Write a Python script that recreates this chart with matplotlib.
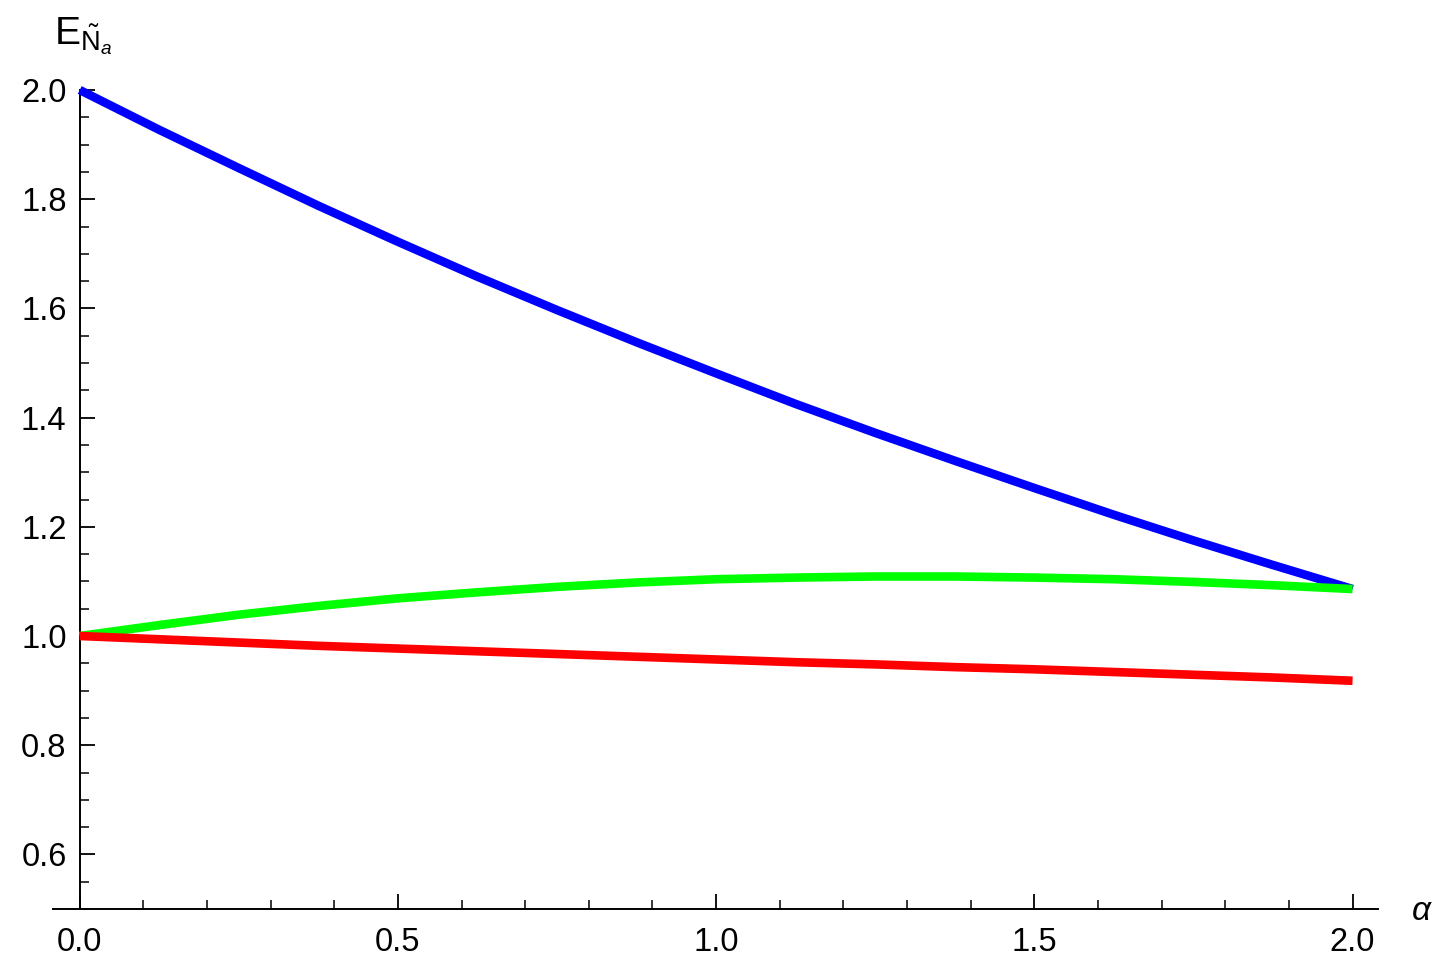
import matplotlib
matplotlib.use("Agg")
import matplotlib.pyplot as plt
from matplotlib.ticker import MultipleLocator, FormatStrFormatter

alpha = [0.0, 0.125, 0.25, 0.375, 0.5, 0.625, 0.75, 0.875, 1.0,
         1.125, 1.25, 1.375, 1.5, 1.625, 1.75, 1.875, 2.0]
e_blue = [2.0, 1.927, 1.857, 1.788, 1.722, 1.658, 1.597, 1.538, 1.481,
          1.425, 1.372, 1.321, 1.271, 1.222, 1.175, 1.130, 1.086]
e_green = [1.0, 1.020, 1.039, 1.055, 1.069, 1.080, 1.090, 1.098, 1.104,
           1.107, 1.109, 1.109, 1.107, 1.104, 1.099, 1.093, 1.086]
e_red = [1.0, 0.994, 0.988, 0.982, 0.977, 0.972, 0.967, 0.962, 0.957,
         0.952, 0.948, 0.943, 0.939, 0.934, 0.929, 0.924, 0.918]

x_major = [0.0, 0.5, 1.0, 1.5, 2.0]
y_major = [0.6, 0.8, 1.0, 1.2, 1.4, 1.6, 1.8, 2.0]

plt.rcParams['font.family'] = ['Liberation Sans', 'DejaVu Sans']
plt.rcParams['mathtext.fontset'] = 'custom'
plt.rcParams['mathtext.rm'] = 'Liberation Sans'
plt.rcParams['mathtext.it'] = 'Liberation Sans:italic'

W, H = 1448, 975
fig = plt.figure(figsize=(W / 100, H / 100), dpi=100)
ax = fig.add_axes([53 / W, (H - 909) / H, (1378 - 53) / W, (909 - 90) / H])

lw = 6.2
ax.plot(alpha, e_blue, color=(0, 0, 1), lw=lw, solid_capstyle='butt', clip_on=False, zorder=3)
ax.plot(alpha, e_green, color=(0, 1, 0), lw=lw, solid_capstyle='butt', clip_on=False, zorder=4)
ax.plot(alpha, e_red, color=(1, 0, 0), lw=lw, solid_capstyle='butt', clip_on=False, zorder=5)

ax.set_xlim(-0.042, 2.04)
ax.set_ylim(0.5, 2.0)

for s in ['top', 'right']:
    ax.spines[s].set_visible(False)
ax.spines['left'].set_position(('data', 0))
for s in ['left', 'bottom']:
    ax.spines[s].set_linewidth(1.4)
    ax.spines[s].set_zorder(2)

ax.set_xticks(x_major)
ax.set_yticks(y_major)
ax.xaxis.set_minor_locator(MultipleLocator(0.1))
ax.yaxis.set_minor_locator(MultipleLocator(0.05))
ax.xaxis.set_major_formatter(FormatStrFormatter('%.1f'))
ax.yaxis.set_major_formatter(FormatStrFormatter('%.1f'))

ax.tick_params(axis='both', which='major', direction='in', length=11, width=1.3, labelsize=23.5)
ax.tick_params(axis='both', which='minor', direction='in', length=6.5, width=1.1)
ax.tick_params(axis='x', which='major', pad=13)
ax.tick_params(axis='y', which='major', pad=9.5)

fig.text(1412 / W, 1 - 912 / H, 'α', fontsize=24, style='italic', ha='left', va='center')
fig.text(54 / W, 1 - 44 / H, r'$\mathrm{E}_{\tilde{\mathrm{N}}_{a}}$', fontsize=28, ha='left', va='baseline')

fig.savefig('out.png', dpi=100, facecolor='white')
